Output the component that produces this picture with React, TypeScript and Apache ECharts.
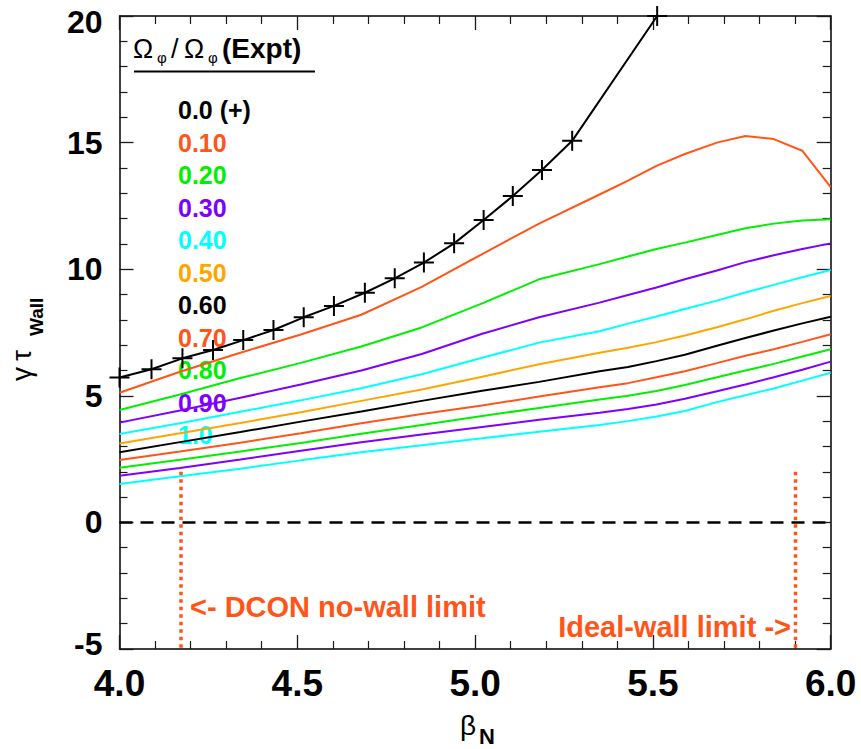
import React, { useEffect, useRef } from "react";
import * as echarts from "echarts";

// Rotation scan: beta_N grid shared by the coloured curves
const betaGrid = [4.0, 4.17, 4.34, 4.51, 4.68, 4.85, 5.02, 5.18, 5.35, 5.43, 5.51, 5.59, 5.68, 5.76, 5.84, 5.92, 6.0];

const rot010 = [5.12, 5.95, 6.7, 7.42, 8.2, 9.3, 10.6, 11.8, 12.95, 13.5, 14.08, 14.55, 15.0, 15.26, 15.14, 14.68, 13.24];
const rot020 = [4.44, 5.05, 5.7, 6.3, 6.95, 7.7, 8.65, 9.6, 10.2, 10.5, 10.8, 11.05, 11.35, 11.62, 11.8, 11.92, 11.97];
const rot030 = [3.94, 4.42, 4.92, 5.45, 6.0, 6.65, 7.45, 8.1, 8.68, 8.98, 9.28, 9.6, 9.95, 10.28, 10.55, 10.8, 11.02];
const rot040 = [3.49, 3.92, 4.37, 4.82, 5.3, 5.85, 6.5, 7.1, 7.55, 7.85, 8.13, 8.43, 8.76, 9.08, 9.38, 9.68, 9.97];
const rot050 = [3.12, 3.52, 3.93, 4.35, 4.8, 5.25, 5.75, 6.25, 6.7, 6.9, 7.12, 7.38, 7.71, 8.02, 8.36, 8.66, 8.94];
const rot060 = [2.77, 3.17, 3.57, 3.98, 4.38, 4.8, 5.2, 5.55, 5.97, 6.14, 6.37, 6.62, 6.98, 7.28, 7.58, 7.86, 8.12];
const rot070 = [2.46, 2.8, 3.15, 3.52, 3.92, 4.28, 4.62, 4.97, 5.34, 5.5, 5.73, 5.97, 6.29, 6.58, 6.84, 7.13, 7.43];
const rot080 = [2.16, 2.47, 2.8, 3.14, 3.5, 3.85, 4.2, 4.52, 4.85, 5.0, 5.19, 5.43, 5.73, 6.0, 6.26, 6.55, 6.84];
const rot090 = [1.84, 2.15, 2.48, 2.83, 3.17, 3.47, 3.77, 4.05, 4.33, 4.48, 4.66, 4.88, 5.18, 5.45, 5.73, 6.03, 6.35];
const rot100 = [1.52, 1.82, 2.12, 2.45, 2.77, 3.05, 3.32, 3.58, 3.85, 4.0, 4.18, 4.4, 4.75, 5.02, 5.29, 5.6, 5.91];

// zero-rotation case (+ markers)
const betaPlus = [4.0, 4.09, 4.177, 4.263, 4.348, 4.433, 4.518, 4.603, 4.69, 4.774, 4.856, 4.941, 5.024, 5.106, 5.188, 5.273, 5.512];
const gammaPlus = [5.72, 6.05, 6.48, 6.81, 7.2, 7.6, 8.1, 8.55, 9.07, 9.64, 10.26, 11.02, 11.94, 12.89, 13.92, 15.07, 20.0];

const rotCurves = [rot010, rot020, rot030, rot040, rot050, rot060, rot070, rot080, rot090, rot100];
const legendLabels = ["0.0 (+)", "0.10", "0.20", "0.30", "0.40", "0.50", "0.60", "0.70", "0.80", "0.90", "1.0"];
const ORANGE_RED = "#FF5519";
const GREEN = "#00F000";
const PURPLE = "#7F00FF";
const CYAN = "#00FFFF";
const ORANGE = "#FFA500";
const legendColors = ["#000000", ORANGE_RED, GREEN, PURPLE, CYAN, ORANGE, "#000000", ORANGE_RED, GREEN, PURPLE, CYAN];

const dconLimit = 4.173;
const idealLimit = 5.901;
const limitTop = 2.0;

const xMin = 4.0, xMax = 6.0, xStep = 0.5;
const yMin = -5, yMax = 20, yStep = 5;

const FONT = '"Liberation Sans", Arial, sans-serif';
const PLUS = "path://M9,0H11V9H20V11H11V20H9V11H0V9H9Z";

export default function App() {
  const ref = useRef<HTMLDivElement>(null);
  useEffect(() => {
    if (!ref.current) return;
    const chart = echarts.init(ref.current, undefined, { renderer: "svg" });
    const tickColor = "#1a1a1a";
    const axisCommon = {
      type: "value",
      splitLine: { show: false },
      axisLine: { show: true, onZero: false, lineStyle: { color: "#000", width: 1.5 } },
      axisTick: { show: true, inside: true, length: 14, lineStyle: { color: tickColor, width: 1.3 } },
      minorTick: { show: true, splitNumber: 5, length: 8, lineStyle: { color: tickColor, width: 1.2 } },
      minorSplitLine: { show: false },
    };
    const series: any[] = [];
    series.push({
      type: "line",
      data: [[xMin, 0], [xMax, 0]],
      symbol: "none",
      lineStyle: { color: "#000", width: 2.5, type: [13, 8] },
      silent: true,
      z: 2,
    });
    [dconLimit, idealLimit].forEach((b) => {
      series.push({
        type: "line",
        data: [[b, limitTop], [b, yMin]],
        symbol: "none",
        lineStyle: { color: ORANGE_RED, width: 3.5, type: [3.5, 4] },
        silent: true,
        z: 2,
      });
    });
    rotCurves.forEach((vals, i) => {
      const c = legendColors[i + 1];
      series.push({
        name: legendLabels[i + 1],
        type: "line",
        data: betaGrid.map((b, j) => [b, vals[j]]),
        symbol: "none",
        lineStyle: { color: c, width: 2 },
        silent: true,
        z: 3,
      });
    });
    series.push({
      name: legendLabels[0],
      type: "line",
      data: betaPlus.map((b, j) => [b, gammaPlus[j]]),
      symbol: PLUS,
      symbolSize: 20,
      showSymbol: true,
      itemStyle: { color: "#000" },
      lineStyle: { color: "#000", width: 2 },
      silent: true,
      z: 4,
    });

    const graphics: any[] = [];
    const titleParts = [
      { t: "Ω", x: 133, y: 48.5, size: 27, w: "normal" },
      { t: "φ", x: 157, y: 57, size: 15, w: "normal" },
      { t: "/", x: 171, y: 48.5, size: 27, w: "normal" },
      { t: "Ω", x: 184, y: 48.5, size: 27, w: "normal" },
      { t: "φ", x: 208, y: 57, size: 15, w: "normal" },
      { t: "(Expt)", x: 222, y: 48.5, size: 28, w: "bold" },
    ];
    titleParts.forEach((p) => {
      graphics.push({
        type: "text",
        x: p.x,
        y: p.y,
        z: 1,
        silent: true,
        style: { text: p.t, fontSize: p.size, fontWeight: p.w, fontFamily: FONT, fill: "#000", align: "left", verticalAlign: "middle" },
      });
    });
    graphics.push({
      type: "line",
      z: 1,
      silent: true,
      shape: { x1: 134, y1: 71.5, x2: 315, y2: 71.5 },
      style: { stroke: "#000", lineWidth: 2 },
    });
    legendLabels.forEach((lab, i) => {
      graphics.push({
        type: "text",
        x: 178,
        y: 110 + i * 32.5,
        z: 1,
        silent: true,
        style: { text: lab, fontSize: 25, fontWeight: "bold", fontFamily: FONT, fill: legendColors[i], align: "left", verticalAlign: "middle" },
      });
    });
    graphics.push({
      type: "text",
      x: 190,
      y: 607,
      z: 1,
      silent: true,
      style: { text: "<- DCON no-wall limit", fontSize: 29, fontWeight: "bold", fontFamily: FONT, fill: ORANGE_RED, align: "left", verticalAlign: "middle" },
    });
    graphics.push({
      type: "text",
      x: 791,
      y: 627,
      z: 1,
      silent: true,
      style: { text: "Ideal-wall limit ->", fontSize: 29, fontWeight: "bold", fontFamily: FONT, fill: ORANGE_RED, align: "right", verticalAlign: "middle" },
    });
    graphics.push({
      type: "text",
      x: 460,
      y: 725.5,
      silent: true,
      style: { text: "β", fontSize: 28, fontFamily: FONT, fill: "#000", align: "left", verticalAlign: "middle" },
    });
    graphics.push({
      type: "text",
      x: 479,
      y: 736.5,
      silent: true,
      style: { text: "N", fontSize: 22, fontWeight: "bold", fontFamily: FONT, fill: "#000", align: "left", verticalAlign: "middle" },
    });
    graphics.push({
      type: "group",
      x: 31,
      y: 381,
      rotation: Math.PI / 2,
      silent: true,
      children: [
        { type: "text", x: 0, y: -9.7, style: { text: "γ", fontSize: 28, fontFamily: FONT, fill: "#000", align: "left", verticalAlign: "middle" } },
        { type: "text", x: 20, y: -9.7, style: { text: "τ", fontSize: 28, fontFamily: FONT, fill: "#000", align: "left", verticalAlign: "middle" } },
        { type: "text", x: 45, y: 5, style: { text: "Wall", fontSize: 19, fontWeight: "bold", fontFamily: FONT, fill: "#000", align: "left", verticalAlign: "middle" } },
      ],
    });

    const labelRich = {
      t: { fontSize: 32, fontWeight: "bold", color: "#000", fontFamily: FONT, padding: [12, 0, 0, 0] },
      b: { fontSize: 32, fontWeight: "bold", color: "#000", fontFamily: FONT, padding: [0, 0, 10, 0] },
      n: { fontSize: 32, fontWeight: "bold", color: "#000", fontFamily: FONT },
    };

    chart.setOption({
      animation: false,
      backgroundColor: "#ffffff",
      textStyle: { fontFamily: FONT },
      grid: { left: 119.5, right: 30.3, top: 16, bottom: 100, containLabel: false },
      xAxis: [
        {
          ...axisCommon,
          position: "bottom",
          min: xMin,
          max: xMax,
          interval: xStep,
          axisLabel: {
            show: true,
            fontSize: 37,
            fontWeight: "bold",
            color: "#000",
            fontFamily: FONT,
            margin: 16,
            formatter: (v: number) => v.toFixed(1),
          },
        },
        {
          ...axisCommon,
          position: "top",
          min: xMin,
          max: xMax,
          interval: xStep,
          axisLabel: { show: false },
        },
      ],
      yAxis: [
        {
          ...axisCommon,
          position: "left",
          min: yMin,
          max: yMax,
          interval: yStep,
          axisLabel: {
            show: true,
            margin: 17,
            fontSize: 32,
            fontWeight: "bold",
            color: "#000",
            fontFamily: FONT,
            formatter: (v: number) => (v === yMax ? "{t|" + v + "}" : v === yMin ? "{b|" + v + "}" : "{n|" + v + "}"),
            rich: labelRich,
          },
        },
        {
          ...axisCommon,
          position: "right",
          min: yMin,
          max: yMax,
          interval: yStep,
          axisLabel: { show: false },
        },
      ],
      series,
      graphic: { elements: graphics },
    });
    return () => chart.dispose();
  }, []);
  return <div ref={ref} style={{ position: "absolute", left: 0, top: 0, width: 861, height: 749 }} />;
}
